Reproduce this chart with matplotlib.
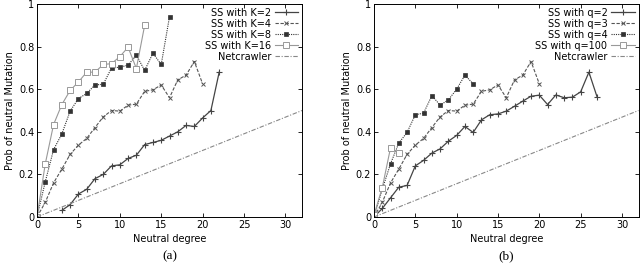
import matplotlib
matplotlib.use("Agg")
import matplotlib.pyplot as plt

# Panel (a)
k2_x = list(range(3, 23))
k2_y = [0.031, 0.058, 0.108, 0.13, 0.18, 0.20, 0.24, 0.245, 0.275, 0.29, 0.34, 0.35, 0.36, 0.38, 0.40, 0.43, 0.425, 0.465, 0.50, 0.68]
k4_x = list(range(0, 21))
k4_y = [0.0, 0.069, 0.16, 0.225, 0.294, 0.3375, 0.369, 0.42, 0.47, 0.50, 0.497, 0.525, 0.53, 0.59, 0.597, 0.62, 0.56, 0.644, 0.666, 0.73, 0.625]
k8_x = list(range(0, 17))
k8_y = [0.0, 0.166, 0.316, 0.39, 0.497, 0.556, 0.58, 0.62, 0.623, 0.70, 0.703, 0.713, 0.76, 0.688, 0.769, 0.716, 0.94]
k16_x = list(range(0, 14))
k16_y = [0.0, 0.25, 0.434, 0.528, 0.594, 0.634, 0.68, 0.68, 0.716, 0.72, 0.753, 0.797, 0.697, 0.90]

# Panel (b)
q2_x = list(range(0, 28))
q2_y = [0.0, 0.04, 0.09, 0.14, 0.148, 0.24, 0.266, 0.30, 0.32, 0.356, 0.383, 0.425, 0.397, 0.456, 0.48, 0.484, 0.497, 0.52, 0.544, 0.567, 0.572, 0.528, 0.573, 0.56, 0.5625, 0.5875, 0.68, 0.5625]
q3_x = list(range(0, 21))
q3_y = [0.0, 0.069, 0.16, 0.225, 0.294, 0.3375, 0.369, 0.42, 0.47, 0.50, 0.497, 0.525, 0.53, 0.59, 0.597, 0.62, 0.56, 0.644, 0.666, 0.73, 0.625]
q4_x = list(range(0, 13))
q4_y = [0.0, 0.13, 0.25, 0.347, 0.397, 0.48, 0.4875, 0.57, 0.525, 0.55, 0.60, 0.666, 0.625]
q100_x = [0, 1, 2, 3]
q100_y = [0.01, 0.1375, 0.325, 0.30]

net_x = [0, 32]
net_y = [0.0, 0.5]

fig = plt.figure(figsize=(6.4, 2.64), dpi=100)
axA = fig.add_axes([37/640, 1-217/264, (302-37)/640, 213/264])
axB = fig.add_axes([374/640, 1-217/264, (638.5-374)/640, 213/264])

styles = [
    dict(color="#444444", ls="-", marker="+", ms=4, mew=0.8, lw=0.9),
    dict(color="#555555", ls=(0, (3, 1.5)), marker="x", ms=3, mew=0.7, lw=0.8),
    dict(color="#333333", ls=(0, (1, 1)), marker="s", ms=2.5, mfc="#333333", mew=0.5, lw=0.8),
    dict(color="#999999", ls="-", marker="s", ms=4, mfc="white", mew=0.7, lw=0.8),
]
net_style = dict(color="#888888", ls=(0, (4, 1.5, 1, 1.5)), lw=0.8)

def draw(ax, series, labels, tag):
    for (x, y), lab, st in zip(series, labels, styles):
        ax.plot(x, y, label=lab, **st)
    ax.plot(net_x, net_y, label="Netcrawler", **net_style)
    ax.set_xlim(0, 32)
    ax.set_ylim(0, 1)
    ax.set_xticks([0, 5, 10, 15, 20, 25, 30])
    ax.set_yticks([0, 0.2, 0.4, 0.6, 0.8, 1])
    ax.set_yticklabels(["0", "0.2", "0.4", "0.6", "0.8", "1"])
    ax.tick_params(direction="in", top=True, right=True, labelsize=7, length=3, width=0.6, pad=2)
    for s in ax.spines.values():
        s.set_linewidth(0.7)
    ax.set_xlabel("Neutral degree", fontsize=7, labelpad=3)
    ax.set_ylabel("Prob of neutral Mutation", fontsize=7, labelpad=3)
    ax.legend(loc="upper right", markerfirst=False, frameon=False, fontsize=7,
              handlelength=2.4, labelspacing=0.1, borderpad=0.2, handletextpad=0.4,
              borderaxespad=0.2)
    bb = ax.get_position()
    fig.text((bb.x0 + bb.x1) / 2, 1 - 256/264, tag, ha="center", va="center",
             fontsize=9.5, family="Liberation Serif")

draw(axA, [(k2_x, k2_y), (k4_x, k4_y), (k8_x, k8_y), (k16_x, k16_y)],
     ["SS with K=2", "SS with K=4", "SS with K=8", "SS with K=16"], "(a)")
draw(axB, [(q2_x, q2_y), (q3_x, q3_y), (q4_x, q4_y), (q100_x, q100_y)],
     ["SS with q=2", "SS with q=3", "SS with q=4", "SS with q=100"], "(b)")

fig.savefig("out.png", dpi=100)
